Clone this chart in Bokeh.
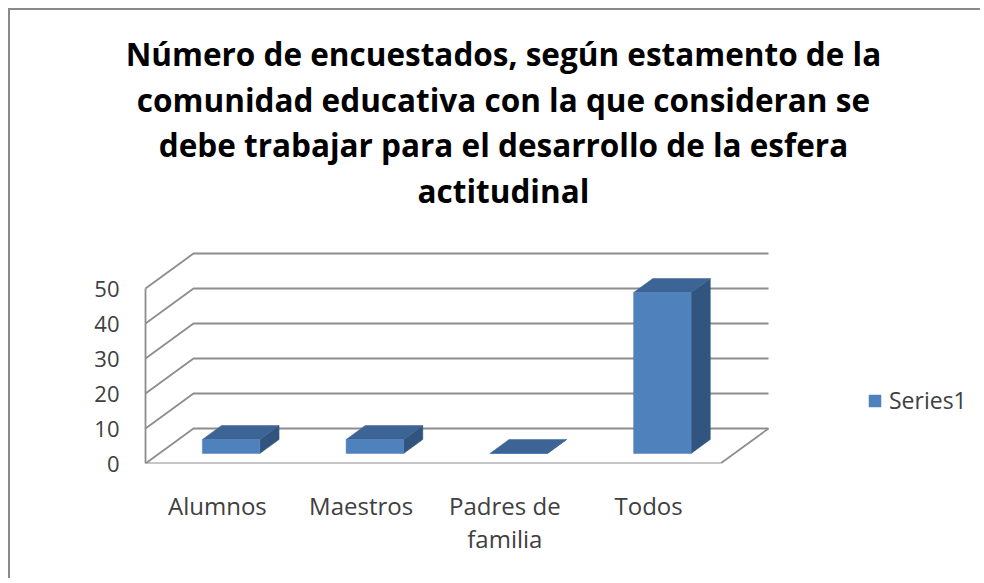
from bokeh.plotting import figure
from bokeh.models import (Range1d, FixedTicker, LinearAxis, Legend, LegendItem)
from bokeh.core.properties import value
from bokeh.embed import file_html
from bokeh.resources import INLINE

# ---- data ----
categories = ["Alumnos", "Maestros", "Padres de\nfamilia", "Todos"]
values = [4, 4, 0, 46]
y_ticks = [0, 10, 20, 30, 40, 50]
series_name = "Series1"
title_lines = ["Número de encuestados, según estamento de la",
               "comunidad educativa con la que consideran se",
               "debe trabajar para el desarrollo de la esfera",
               "actitudinal"]

# ---- 3D geometry (in data units) ----
DX = 0.334      # full depth offset, x (category units)
DY = 10.0       # full depth offset, y (value units)
D0 = 0.286      # front of bar, as fraction of depth
DD = 0.40       # bar depth, as fraction of depth
BW = 0.40       # bar width (category units)
n = len(categories)

p = figure(width=972, height=570, output_backend="svg", toolbar_location=None,
           x_range=Range1d(-0.16, 5.8226), y_range=Range1d(0, 129.43),
           min_border_left=112, min_border_bottom=117, min_border_right=0,
           min_border_top=0, x_axis_type=None, y_axis_type=None)
p.styles = {"margin-left": "8px", "margin-top": "8px",
            "border-top": "2px solid #8a8a8a", "border-left": "2px solid #8a8a8a",
            "border-right": "0px none transparent", "border-bottom": "0px none transparent",
            "outline": "none", "box-shadow": "none"}
p.xgrid.visible = False
p.ygrid.visible = False
p.outline_line_color = None
p.background_fill_color = "white"
p.border_fill_color = "white"

# ---- chart title (centred over the plot area) ----
p.text(x=[2.49] * 4, y=[117.14, 104.0, 91.14, 78.0], text=title_lines,
       text_font=value("Open Sans"), text_font_style=value("bold"),
       text_font_size=value("31.5px"), text_color="#000000",
       text_align="center", text_baseline="alphabetic")

# ---- walls / gridlines ----
grid_col = "#8d8d8d"
gx, gy = [], []
for t in y_ticks:
    gx.append([0, DX, n + DX]); gy.append([t, t + DY, t + DY])
gx.append([0, 0]); gy.append([0, y_ticks[-1]])
gx.append([0, n, n + DX]); gy.append([0, 0, DY])
p.multi_line(gx, gy, line_color=grid_col, line_width=1.8)

# ---- 3D bars ----
fx0, fx1, fb, ft = [], [], [], []
top_xs, top_ys, side_xs, side_ys = [], [], [], []
ox, oy = DD * DX, DD * DY
for i, v in enumerate(values):
    x0 = i + 0.5 - BW / 2 + D0 * DX
    x1 = x0 + BW
    yb = D0 * DY
    yt = yb + v
    fx0.append(x0); fx1.append(x1); fb.append(yb); ft.append(yt)
    top_xs.append([x0, x1, x1 + ox, x0 + ox]); top_ys.append([yt, yt, yt + oy, yt + oy])
    side_xs.append([x1, x1, x1 + ox, x1 + ox]); side_ys.append([yb, yt, yt + oy, yb + oy])

p.patches(side_xs, side_ys, fill_color="#32557F", line_color="#32557F", line_width=0.5)
p.patches(top_xs, top_ys, fill_color="#3C6494", line_color="#3C6494", line_width=0.5)
front = p.quad(left=fx0, right=fx1, bottom=fb, top=ft,
               fill_color="#4F81BD", line_color="#4F81BD", line_width=0.5)

# ---- axes ----
yax = LinearAxis(ticker=FixedTicker(ticks=y_ticks))
yax.axis_line_color = None
yax.major_tick_line_color = None
yax.minor_tick_line_color = None
yax.major_tick_out = 0
yax.major_label_standoff = 3
yax.major_label_text_font = "Open Sans"
yax.major_label_text_font_size = "22px"
yax.major_label_text_color = "#404040"
p.add_layout(yax, "left")

xax = LinearAxis(ticker=FixedTicker(ticks=[i + 0.5 for i in range(n)]))
xax.major_label_overrides = {i + 0.5: c for i, c in enumerate(categories)}
xax.axis_line_color = None
xax.major_tick_line_color = None
xax.minor_tick_line_color = None
xax.major_tick_out = 0
xax.major_label_standoff = 25
xax.major_label_text_font = "Open Sans"
xax.major_label_text_font_size = "24px"
xax.major_label_text_line_height = 1.0
xax.major_label_text_color = "#404040"
p.add_layout(xax, "below")

legend = Legend(items=[LegendItem(label=series_name, renderers=[front])],
                location=(745, 47), border_line_color=None, background_fill_alpha=0,
                padding=0, margin=0, glyph_width=15, glyph_height=15, label_standoff=7,
                label_text_font="Open Sans", label_text_font_size="23px",
                label_text_color="#404040")
p.add_layout(legend, "center")

open("out.html", "w").write(file_html(p, INLINE))
